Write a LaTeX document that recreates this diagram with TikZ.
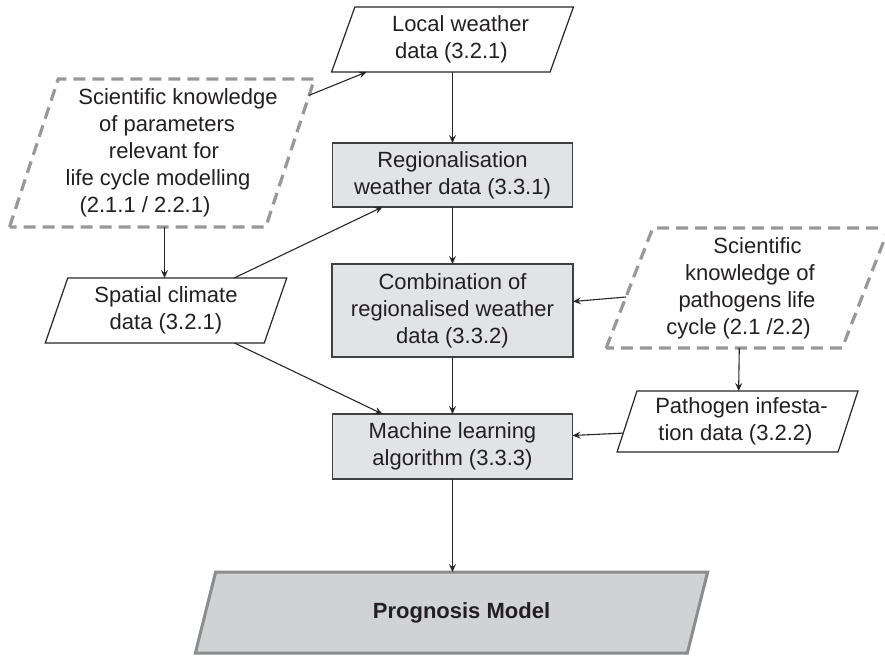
\documentclass[tikz,border=0pt]{standalone}
\usepackage{fontspec}
\setmainfont{Liberation Sans}
\usetikzlibrary{shapes.geometric,arrows.meta,calc}
\definecolor{boxgray}{RGB}{226,227,229}
\definecolor{modelgray}{RGB}{209,210,212}
\definecolor{dashgray}{RGB}{152,152,152}
\definecolor{textgray}{RGB}{35,31,32}
\newcommand{\nudge}[2]{\hspace*{#1}#2\hspace*{-#1}}

\begin{document}
\begin{tikzpicture}[
		font=\fontsize{22pt}{27pt}\selectfont,
		every node/.style={text=textgray, align=center, inner sep=0pt, outer sep=0pt},
		procbox/.style={rectangle, draw=black!75, fill=boxgray, line width=1.2pt, minimum width=240pt},
		databox/.style={trapezium, trapezium left angle=71, trapezium right angle=109, trapezium stretches=true,
			draw=black!85, line width=1.2pt, minimum width=242pt, minimum height=65pt},
		knowbox/.style={databox, draw=dashgray, line width=3.2pt, dash pattern=on 12pt off 7pt},
		modelbox/.style={databox, draw=black!45, fill=modelgray, line width=3pt, font=\fontsize{22pt}{27pt}\selectfont\bfseries},
		link/.style={-{Stealth[length=8pt,width=7pt,inset=3pt]}, line width=1.1pt, draw=black!85}
	]
  \useasboundingbox (0pt,0pt) rectangle (885pt,-656pt);
  \node (local_w) [databox] at (452.5pt,-39.5pt) {\nudge{8pt}{Local weather}\\\nudge{-1pt}{data (3.2.1)}};
  \node (reg_w) [procbox, minimum height=64pt] at (452.5pt,-175pt) {Regionalisation\\weather data (3.3.1)};
  \node (comb_w) [procbox, minimum width=241pt, minimum height=93pt] at (452.5pt,-310.5pt) {Combination of\\regionalised weather\\data (3.3.2)};
  \node (ml_alg) [procbox, minimum height=65pt] at (452.5pt,-446.5pt) {Machine learning\\algorithm (3.3.3)};
  \node (prog_m) [modelbox, trapezium left angle=69.7, trapezium right angle=110.3, minimum width=513pt, minimum height=81pt]
    at (451.5pt,-612.5pt) {\nudge{10pt}{Prognosis Model}};
  \node (sci_par) [knowbox, trapezium left angle=70, trapezium right angle=110, minimum width=306pt, minimum height=148pt]
    at (162pt,-153pt) {\nudge{16pt}{Scientific knowledge}\\\nudge{10pt}{of parameters}\\\nudge{4pt}{relevant for}\\
      \nudge{-8pt}{life cycle modelling}\\\nudge{-17pt}{(2.1.1 / 2.2.1)}};
  \node (spat_c) [databox] at (166pt,-310.5pt) {Spatial climate\\data (3.2.1)};
  \node (sci_pat) [knowbox, trapezium left angle=70.7, trapezium right angle=109.3, minimum width=283pt, minimum height=120pt]
    at (747.5pt,-288pt) {\nudge{10pt}{Scientific}\\\nudge{5pt}{knowledge of}\\\nudge{-1pt}{pathogens life}\\\nudge{-9pt}{cycle (2.1 /2.2)}};
  \node (path_inf) [databox, trapezium left angle=70.2, trapezium right angle=109.8, minimum width=241pt, minimum height=61pt]
    at (737.5pt,-421.5pt) {\nudge{4pt}{Pathogen infesta-}\\\nudge{-2pt}{tion data (3.2.2)}};
  \draw [link] ($(sci_par.top right corner)!0.11!(sci_par.bottom right corner)$) -- ($(local_w.bottom left corner)!0.16!(local_w.bottom right corner)$);
  \draw [link] (local_w.south -| reg_w.north) -- (reg_w.north);
  \draw [link] (reg_w.south) -- (comb_w.north);
  \draw [link] (comb_w.south) -- (ml_alg.north);
  \draw [link] (ml_alg.south) -- (ml_alg.south |- prog_m.north);
  \draw [link] ([xshift=2.5pt]sci_par.center |- sci_par.south) -- ([xshift=2.5pt]sci_par.center |- spat_c.north);
  \draw [link] ($(spat_c.top left corner)!0.76!(spat_c.top right corner)$) -- ([xshift=-70pt]reg_w.south);
  \draw [link] ($(spat_c.bottom left corner)!0.864!(spat_c.bottom right corner)$) -- ([xshift=-70pt]ml_alg.north);
  \draw [link] ($(sci_pat.top left corner)!0.575!(sci_pat.bottom left corner)$) -- ([yshift=9pt]comb_w.east);
  \draw [link] ($(sci_pat.bottom left corner)!0.564!(sci_pat.bottom right corner)$) -- ($(path_inf.top left corner)!0.46!(path_inf.top right corner)$);
  \draw [link] ($(path_inf.top left corner)!0.69!(path_inf.bottom left corner)$) -- ([yshift=11pt]ml_alg.east);
\end{tikzpicture}
\end{document}
